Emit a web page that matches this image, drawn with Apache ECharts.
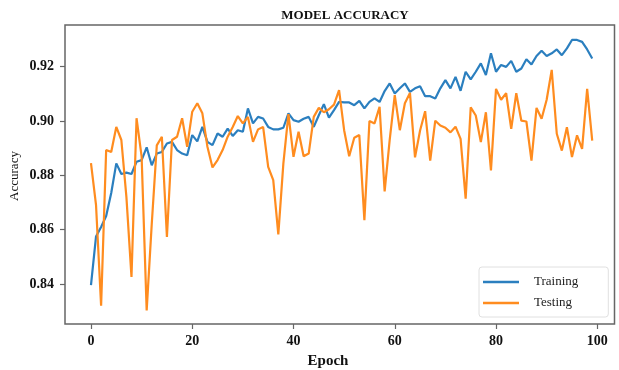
<!DOCTYPE html>
<html>
<head>
<meta charset="utf-8">
<script src="https://cdn.jsdelivr.net/npm/echarts@6/dist/echarts.min.js"></script>
<style>
html,body{margin:0;padding:0;background:#fff;}
#chart{width:619px;height:370px;}
</style>
</head>
<body>
<div id="chart"></div>
<script>
const titleText = 'MODEL ACCURACY';
const xName = 'Epoch';
const yName = 'Accuracy';
const seriesNames = ['Training', 'Testing'];
const xTicks = [0, 20, 40, 60, 80, 100];
const yTicks = [0.84, 0.86, 0.88, 0.90, 0.92];

const trainAcc = [
  0.8396, 0.8575, 0.8610, 0.8650, 0.8735, 0.8844, 0.8805, 0.8810, 0.8805, 0.8850,
  0.8856, 0.8903, 0.8837, 0.8880, 0.8886, 0.8917, 0.8923, 0.8893, 0.8880, 0.8874,
  0.8948, 0.8925, 0.8978, 0.8923, 0.8911, 0.8954, 0.8942, 0.8972, 0.8945, 0.8966,
  0.8960, 0.9046, 0.8991, 0.9015, 0.9009, 0.8978, 0.8969, 0.8969, 0.8975, 0.9028,
  0.9003, 0.8997, 0.9008, 0.9015, 0.8978, 0.9021, 0.9062, 0.9012, 0.9040, 0.9070,
  0.9068, 0.9068, 0.9058, 0.9074, 0.9046, 0.9070, 0.9083, 0.9070, 0.9110, 0.9138,
  0.9101, 0.9120, 0.9138, 0.9107, 0.9120, 0.9128, 0.9091, 0.9091, 0.9083, 0.9120,
  0.9150, 0.9120, 0.9162, 0.9111, 0.9181, 0.9153, 0.9181, 0.9212, 0.9169, 0.9249,
  0.9181, 0.9206, 0.9199, 0.9221, 0.9181, 0.9193, 0.9227, 0.9208, 0.9239, 0.9258,
  0.9239, 0.9249, 0.9263, 0.9242, 0.9267, 0.9298, 0.9298, 0.9291, 0.9263, 0.9230
];
const testAcc = [
  0.8845, 0.8690, 0.8320, 0.8893, 0.8886, 0.8978, 0.8930, 0.8720, 0.8426, 0.9010,
  0.8870, 0.8303, 0.8620, 0.8910, 0.8942, 0.8573, 0.8930, 0.8942, 0.9010, 0.8905,
  0.9034, 0.9065, 0.9028, 0.8905, 0.8829, 0.8856, 0.8893, 0.8942, 0.8978, 0.9018,
  0.8991, 0.9015, 0.8923, 0.8969, 0.8978, 0.8831, 0.8782, 0.8583, 0.8844, 0.9025,
  0.8868, 0.8960, 0.8870, 0.8880, 0.9015, 0.9048, 0.9032, 0.9043, 0.9060, 0.9113,
  0.8966, 0.8870, 0.8938, 0.8948, 0.8635, 0.9000, 0.8991, 0.9052, 0.8741, 0.8930,
  0.9095, 0.8966, 0.9065, 0.9103, 0.8866, 0.8965, 0.9036, 0.8854, 0.9001, 0.8983,
  0.8975, 0.8958, 0.8979, 0.8934, 0.8714, 0.9050, 0.9020, 0.8922, 0.9032, 0.8818,
  0.9118, 0.9078, 0.9102, 0.8971, 0.9102, 0.9001, 0.8998, 0.8854, 0.9048, 0.9008,
  0.9078, 0.9188, 0.8953, 0.8891, 0.8977, 0.8867, 0.8947, 0.8897, 0.9118, 0.8928
];

const serif = '"Liberation Serif", "DejaVu Serif", serif';
const chart = echarts.init(document.getElementById('chart'), null, {renderer: 'canvas'});
const toPairs = arr => arr.map((v, i) => [i, v]);

chart.setOption({
  animation: false,
  backgroundColor: '#ffffff',
  grid: {
    left: 65, right: 4.5, top: 25, bottom: 46,
    show: true, borderColor: '#666', borderWidth: 1.5, backgroundColor: 'transparent'
  },
  graphic: [
    { type: 'text', x: 345, y: 16, style: { text: titleText, fill: '#111', font: 'bold 13px ' + serif, textAlign: 'center', textVerticalAlign: 'middle' } },
    { type: 'text', x: 328, y: 361, style: { text: xName, fill: '#111', font: 'bold 15px ' + serif, textAlign: 'center', textVerticalAlign: 'middle' } },
    { type: 'text', x: 15, y: 176, rotation: Math.PI / 2, style: { text: yName, fill: '#111', font: '13px ' + serif, textAlign: 'center', textVerticalAlign: 'middle' } }
  ],
  xAxis: {
    type: 'value', min: -5.13, max: 103.4,
    axisLine: { show: false, onZero: false },
    splitLine: { show: false },
    axisTick: { show: true, customValues: xTicks, length: 5, lineStyle: { color: '#666', width: 1.2 } },
    axisLabel: { customValues: xTicks, margin: 10, color: '#111', fontFamily: serif, fontWeight: 'bold', fontSize: 14, formatter: v => String(Math.round(v)) }
  },
  yAxis: {
    type: 'value', min: 0.8253, max: 0.9353,
    axisLine: { show: false, onZero: false },
    splitLine: { show: false },
    axisTick: { show: true, customValues: yTicks, length: 5, lineStyle: { color: '#666', width: 1.2 } },
    axisLabel: { customValues: yTicks, margin: 11, color: '#111', fontFamily: serif, fontWeight: 'bold', fontSize: 14, formatter: v => v.toFixed(2) }
  },
  legend: {
    orient: 'vertical', left: 479, top: 267,
    data: seriesNames,
    icon: 'rect',
    itemWidth: 36, itemHeight: 2.5, itemGap: 7,
    padding: [8, 30, 7, 4],
    backgroundColor: '#fff', borderColor: '#e0e0e0', borderWidth: 1, borderRadius: 3,
    textStyle: { fontFamily: serif, fontSize: 13, color: '#222', lineHeight: 14, padding: [0, 0, 0, 10] }
  },
  series: [
    { name: seriesNames[0], type: 'line', data: toPairs(trainAcc), symbol: 'none', lineStyle: { color: '#2b7fbf', width: 2.2 }, itemStyle: { color: '#2b7fbf' } },
    { name: seriesNames[1], type: 'line', data: toPairs(testAcc), symbol: 'none', lineStyle: { color: '#ff8c1f', width: 2.2 }, itemStyle: { color: '#ff8c1f' } }
  ]
});
</script>
</body>
</html>
